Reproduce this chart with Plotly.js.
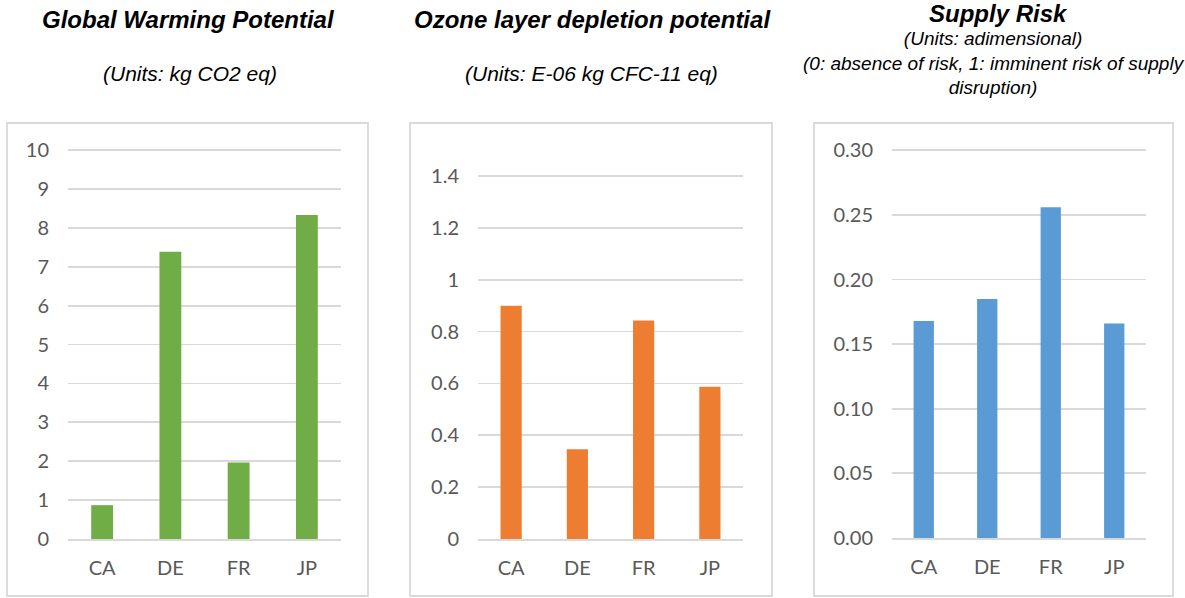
<!DOCTYPE html>
<html>
<head>
<meta charset="utf-8">
<script src="https://cdn.plot.ly/plotly-3.0.1.min.js"></script>
<style>html,body{margin:0;padding:0;background:#fff;}#chart{width:1185px;height:598px;}</style>
</head>
<body>
<div id="chart"></div>
<script>
const categories = ["CA", "DE", "FR", "JP"];
const gwpValues = [0.87, 7.39, 1.97, 8.33];
const odpValues = [0.90, 0.346, 0.843, 0.587];
const supplyRiskValues = [0.168, 0.185, 0.256, 0.166];
const gwpTicks = [0, 1, 2, 3, 4, 5, 6, 7, 8, 9, 10];
const odpTicks = [0, 0.2, 0.4, 0.6, 0.8, 1, 1.2, 1.4];
const odpTickText = ["0", "0.2", "0.4", "0.6", "0.8", "1", "1.2", "1.4"];
const srTicks = [0, 0.05, 0.10, 0.15, 0.20, 0.25, 0.30];
const srTickText = ["0.00", "0.05", "0.10", "0.15", "0.20", "0.25", "0.30"];
const titles = ["Global Warming Potential", "Ozone layer depletion potential", "Supply Risk"];
const subtitles = ["(Units: kg CO2 eq)", "(Units: E-06 kg CFC-11 eq)",
  "(Units: adimensional)<br>(0: absence of risk, 1: imminent risk of supply<br>disruption)"];

const W = 1185, H = 598;
const px = x => x / W;
const py = y => 1 - y / H;

const tickFont = {family: "Lato, Carlito, Calibri, sans-serif", size: 20, color: "#595959"};
const gridColor = "#d9d9d9";

function yax(range, tickvals, ticktext, dom, anchor) {
  const a = {
    domain: dom, range: range, anchor: anchor,
    tickmode: "array", tickvals: tickvals,
    showgrid: true, gridcolor: gridColor, gridwidth: 1.8,
    zeroline: false, showline: false, ticks: "",
    tickfont: tickFont, ticklabelstandoff: 18, fixedrange: true
  };
  if (ticktext) a.ticktext = ticktext;
  return a;
}
function xax(dom, anchor) {
  return {
    domain: dom, anchor: anchor, type: "category",
    showgrid: false, zeroline: false, showline: true, linecolor: gridColor, linewidth: 1.8,
    ticks: "", tickfont: tickFont, ticklabelstandoff: 10, fixedrange: true
  };
}

const data = [
  {type: "bar", x: categories, y: gwpValues, xaxis: "x", yaxis: "y", marker: {color: "#70ad47"}, hoverinfo: "x+y"},
  {type: "bar", x: categories, y: odpValues, xaxis: "x2", yaxis: "y2", marker: {color: "#ed7d31"}, hoverinfo: "x+y"},
  {type: "bar", x: categories, y: supplyRiskValues, xaxis: "x3", yaxis: "y3", marker: {color: "#5b9bd5"}, hoverinfo: "x+y"}
];

const titleFont = {family: "Arial, 'Liberation Sans', sans-serif", size: 24, color: "#000"};
const subFont = {family: "Arial, 'Liberation Sans', sans-serif", size: 21, color: "#000"};
const subFont3 = {family: "Arial, 'Liberation Sans', sans-serif", size: 19, color: "#000"};

function rect(x0, x1) {
  return {type: "rect", xref: "paper", yref: "paper", x0: px(x0), x1: px(x1), y0: py(596), y1: py(123),
    line: {color: "#d9d9d9", width: 1.8}, fillcolor: "rgba(0,0,0,0)", layer: "below"};
}

const layout = {
  width: W, height: H,
  margin: {l: 0, r: 0, t: 0, b: 0},
  paper_bgcolor: "#fff", plot_bgcolor: "rgba(0,0,0,0)",
  showlegend: false, bargap: 0.68,
  xaxis: xax([px(68), px(341)], "y"),
  yaxis: yax([0, 10.03], gwpTicks, null, [py(539), py(149)], "x"),
  xaxis2: xax([px(478), px(743)], "y2"),
  yaxis2: yax([0, 1.404], odpTicks, odpTickText, [py(539), py(175)], "x2"),
  xaxis3: xax([px(892), px(1146)], "y3"),
  yaxis3: yax([0, 0.301], srTicks, srTickText, [py(538), py(149)], "x3"),
  shapes: [rect(7, 368), rect(410, 772), rect(814, 1173)],
  annotations: [
    {text: "<b><i>" + titles[0] + "</i></b>", x: px(188), y: py(20), xref: "paper", yref: "paper", showarrow: false, font: titleFont, xanchor: "center", yanchor: "middle"},
    {text: "<i>" + subtitles[0] + "</i>", x: px(190), y: py(73), xref: "paper", yref: "paper", showarrow: false, font: subFont, xanchor: "center", yanchor: "middle"},
    {text: "<b><i>" + titles[1] + "</i></b>", x: px(592), y: py(20), xref: "paper", yref: "paper", showarrow: false, font: titleFont, xanchor: "center", yanchor: "middle"},
    {text: "<i>" + subtitles[1] + "</i>", x: px(591), y: py(73), xref: "paper", yref: "paper", showarrow: false, font: subFont, xanchor: "center", yanchor: "middle"},
    {text: "<b><i>" + titles[2] + "</i></b>", x: px(998), y: py(14), xref: "paper", yref: "paper", showarrow: false, font: titleFont, xanchor: "center", yanchor: "middle"},
    {text: "<i>" + subtitles[2] + "</i>", x: px(994), y: py(63), xref: "paper", yref: "paper", showarrow: false, font: subFont3, xanchor: "center", yanchor: "middle", align: "center"}
  ]
};

Plotly.newPlot("chart", data, layout, {displayModeBar: false, staticPlot: true});
</script>
</body>
</html>
